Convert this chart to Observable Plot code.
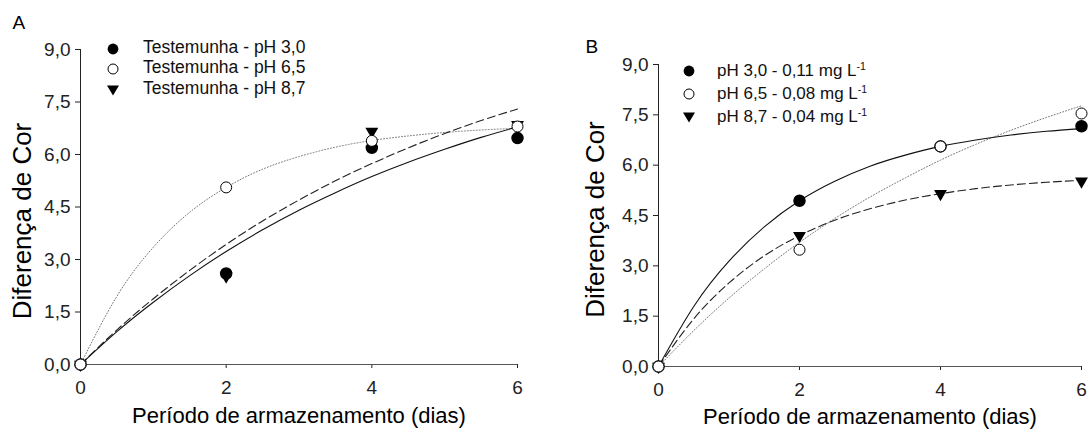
<!DOCTYPE html>
<html><head><meta charset="utf-8">
<script src="https://cdn.jsdelivr.net/npm/d3@7"></script>
<script src="https://cdn.jsdelivr.net/npm/@observablehq/plot@0.6"></script>
<style>
body{margin:0;background:#fff;font-family:"Liberation Sans",Arial,sans-serif;}
#wrap{position:relative;width:1090px;height:436px;overflow:hidden;background:#fff;}
.panel{position:absolute;top:0;}
.leg{position:absolute;color:#111;white-space:nowrap;line-height:1;}
.leg sup{font-size:0.62em;vertical-align:0.55em;line-height:0;}
</style></head>
<body><div id="wrap"></div>
<script>
// ---- data ----
const days = [0, 2, 4, 6];
const aPh30 = [0, 2.60, 6.19, 6.47];
const aPh65 = [0, 5.06, 6.39, 6.80];
const aPh87 = [0, 2.52, 6.66, 6.85];
const bPh30 = [0, 4.94, 6.56, 7.16];
const bPh65 = [0, 3.48, 6.56, 7.54];
const bPh87 = [0, 3.90, 5.15, 5.52];
// fitted curves
const fitDays = [0, 0.5, 1, 1.5, 2, 2.5, 3, 3.5, 4, 4.5, 5, 5.5, 6];
const aFit30 = [0, 0.94, 1.78, 2.54, 3.23, 3.85, 4.41, 4.91, 5.37, 5.78, 6.15, 6.49, 6.79];
const aFit65 = [0, 1.95, 3.35, 4.35, 5.06, 5.58, 5.94, 6.21, 6.40, 6.53, 6.63, 6.70, 6.75];
const aFit87 = [0, 0.99, 1.88, 2.69, 3.43, 4.10, 4.70, 5.25, 5.74, 6.19, 6.60, 6.97, 7.30];
const bFit30 = [0, 1.79, 3.14, 4.16, 4.94, 5.52, 5.97, 6.30, 6.56, 6.75, 6.90, 7.01, 7.09];
const bFit65 = [0, 1.07, 2.04, 2.91, 3.70, 4.41, 5.05, 5.62, 6.15, 6.62, 7.04, 7.42, 7.77];
const bFit87 = [0, 1.42, 2.49, 3.30, 3.90, 4.36, 4.70, 4.96, 5.15, 5.30, 5.41, 5.49, 5.55];
const xTicks = [0, 2, 4, 6];
const yTicks = [0, 1.5, 3, 4.5, 6, 7.5, 9];
const legendA = ["Testemunha - pH 3,0", "Testemunha - pH 6,5", "Testemunha - pH 8,7"];
const legendB = ["pH 3,0 - 0,11 mg L", "pH 6,5 - 0,08 mg L", "pH 8,7 - 0,04 mg L"];
const xTitle = "Período de armazenamento (dias)";
const yTitle = "Diferença de Cor";

const triDown = {draw(ctx, size) {
  const k = Math.sqrt(size / (Math.sqrt(3) * 3));
  ctx.moveTo(0, 2 * k); ctx.lineTo(-Math.sqrt(3) * k, -k); ctx.lineTo(Math.sqrt(3) * k, -k); ctx.closePath();
}};
const fmt = d => d3.format(".1f")(d).replace(".", ",");
const pts = (ys) => days.map((d, i) => ({x: d, y: ys[i]}));
const crv = (ys) => fitDays.map((d, i) => ({x: d, y: ys[i]}));

function panel(o) {
  return Plot.plot({
    width: 545, height: 436,
    marginLeft: o.ml, marginRight: o.mr, marginTop: o.mt, marginBottom: o.mb,
    style: {fontFamily: '"Liberation Sans", Arial, sans-serif', fontSize: "19px", color: "#222", background: "transparent", overflow: "visible"},
    x: {domain: [0, 6], ticks: xTicks, tickSize: 4, tickPadding: 12, label: null, tickFormat: d => String(d)},
    y: {domain: [0, 9], ticks: yTicks, tickSize: 5, tickPadding: 5, label: null, tickFormat: fmt},
    marks: [
      Plot.ruleX([0], {y1: 0, y2: 9, stroke: "#222", strokeWidth: 1}),
      Plot.ruleY([0], {x1: 0, x2: 6, stroke: "#555", strokeWidth: 1}),
      Plot.line(crv(o.f65), {x: "x", y: "y", curve: "natural", stroke: "#777", strokeWidth: 1, strokeDasharray: "1,2"}),
      Plot.line(crv(o.f87), {x: "x", y: "y", curve: "natural", stroke: "#222", strokeWidth: 1.1, strokeDasharray: "8,4"}),
      Plot.line(crv(o.f30), {x: "x", y: "y", curve: "natural", stroke: "#111", strokeWidth: 1.1}),
      Plot.dot(pts(o.p87), {x: "x", y: "y", symbol: triDown, r: 4.8, fill: "#000", stroke: "none"}),
      Plot.dot(pts(o.p30), {x: "x", y: "y", r: 5.5, fill: "#000", stroke: "#000"}),
      Plot.dot(pts(o.p65), {x: "x", y: "y", r: 5.5, fill: "#fff", stroke: "#000", strokeWidth: 1}),
      Plot.text([o.label], {frameAnchor: "top-left", dx: o.ldx, dy: o.ldy, fontSize: 19, textAnchor: "start", fill: "#000"}),
      Plot.text([xTitle], {frameAnchor: "bottom", dy: o.xdy, fontSize: 22, fill: "#000"}),
      Plot.text([yTitle], {frameAnchor: "left", textAnchor: "middle", dx: o.ydx, dy: o.ydy, rotate: -90, fontSize: 26, fill: "#000"})
    ]
  });
}

const wrap = document.getElementById("wrap");
const pA = panel({ml: 80, mr: 28, mt: 49, mb: 72, p30: aPh30, p65: aPh65, p87: aPh87, f30: aFit30, f65: aFit65, f87: aFit87,
  label: "A", ldx: -68, ldy: -34, xdy: 58, ydx: -58, ydy: 14});
const pB = panel({ml: 113, mr: 9, mt: 64, mb: 70, p30: bPh30, p65: bPh65, p87: bPh87, f30: bFit30, f65: bFit65, f87: bFit87,
  label: "B", ldx: -73, ldy: -25, xdy: 57, ydx: -63, ydy: 4});
const dA = document.createElement("div"); dA.className = "panel"; dA.style.left = "0px"; dA.appendChild(pA); wrap.appendChild(dA);
const dB = document.createElement("div"); dB.className = "panel"; dB.style.left = "545px"; dB.appendChild(pB); wrap.appendChild(dB);

// legends
const symbols = [
  '<circle cx="7" cy="7" r="5.4" fill="#000"/>',
  '<circle cx="7" cy="7" r="5" fill="#fff" stroke="#000" stroke-width="1"/>',
  '<path d="M7,12.5 L1,2.5 L13,2.5 Z" fill="#000"/>'
];
function legend(labels, symX, textX, rows, fs, sup) {
  labels.forEach((t, i) => {
    const s = document.createElement("div");
    s.className = "leg";
    s.style.left = (symX - 7) + "px"; s.style.top = (rows[i] - 7) + "px";
    s.innerHTML = '<svg width="14" height="14">' + symbols[i] + '</svg>';
    wrap.appendChild(s);
    const tx = document.createElement("div");
    tx.className = "leg";
    tx.style.left = textX + "px"; tx.style.top = (rows[i] - fs * 0.55) + "px"; tx.style.fontSize = fs + "px";
    tx.textContent = t;
    if (sup) { const sp = document.createElement("sup"); sp.textContent = "-1"; tx.appendChild(sp); }
    wrap.appendChild(tx);
  });
}
legend(legendA, 113, 143, [49, 69, 90], 17.5, false);
legend(legendB, 689, 717, [71, 94, 117], 17, true);
</script>
</body></html>
